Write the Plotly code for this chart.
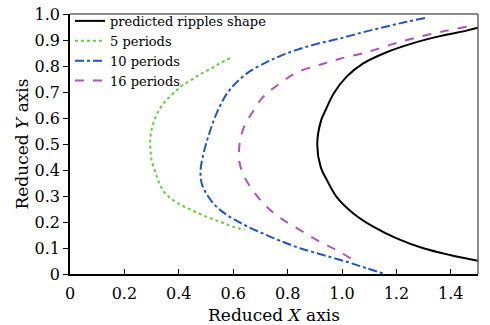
import plotly.graph_objects as go

# predicted ripples shape
pred_x = [1.500, 1.458, 1.360, 1.262, 1.164, 1.078, 1.017, 0.970, 0.940, 0.923, 0.909, 0.922, 0.944, 0.980, 1.042, 1.115, 1.201, 1.299, 1.397, 1.500]
pred_y = [0.947, 0.936, 0.915, 0.888, 0.853, 0.810, 0.759, 0.695, 0.631, 0.590, 0.500, 0.410, 0.362, 0.297, 0.233, 0.182, 0.137, 0.099, 0.073, 0.051]

# 5 periods
p5_x = [0.588, 0.551, 0.515, 0.478, 0.445, 0.410, 0.380, 0.353, 0.331, 0.313, 0.301, 0.295, 0.296, 0.300, 0.313, 0.327, 0.347, 0.378, 0.413, 0.450, 0.486, 0.523, 0.561, 0.600, 0.641]
p5_y = [0.830, 0.810, 0.788, 0.768, 0.746, 0.723, 0.695, 0.667, 0.637, 0.599, 0.560, 0.518, 0.477, 0.438, 0.394, 0.353, 0.314, 0.285, 0.263, 0.244, 0.227, 0.212, 0.197, 0.182, 0.169]

# 10 periods
p10_x = [1.305, 1.238, 1.164, 1.078, 0.993, 0.907, 0.833, 0.772, 0.723, 0.662, 0.613, 0.578, 0.553, 0.532, 0.515, 0.500, 0.488, 0.480, 0.484, 0.502, 0.533, 0.566, 0.607, 0.652, 0.711, 0.772, 0.846, 0.931, 1.017, 1.091, 1.158]
p10_y = [0.985, 0.970, 0.952, 0.930, 0.906, 0.885, 0.862, 0.838, 0.815, 0.780, 0.738, 0.695, 0.650, 0.600, 0.550, 0.500, 0.450, 0.400, 0.349, 0.308, 0.265, 0.235, 0.208, 0.183, 0.155, 0.128, 0.099, 0.073, 0.047, 0.022, 0.000]

# 16 periods
p16_x = [1.458, 1.385, 1.287, 1.189, 1.091, 0.993, 0.919, 0.833, 0.772, 0.711, 0.674, 0.643, 0.627, 0.621, 0.625, 0.641, 0.680, 0.729, 0.784, 0.846, 0.919, 0.980, 1.035]
p16_y = [0.951, 0.936, 0.913, 0.885, 0.853, 0.828, 0.805, 0.775, 0.733, 0.682, 0.627, 0.573, 0.522, 0.464, 0.420, 0.374, 0.310, 0.253, 0.208, 0.169, 0.124, 0.092, 0.058]

x_ticks = [0, 0.2, 0.4, 0.6, 0.8, 1.0, 1.2, 1.4]
x_labels = ["0", "0.2", "0.4", "0.6", "0.8", "1.0", "1.2", "1.4"]
y_ticks = [0, 0.1, 0.2, 0.3, 0.4, 0.5, 0.6, 0.7, 0.8, 0.9, 1.0]
y_labels = ["0", "0.1", "0.2", "0.3", "0.4", "0.5", "0.6", "0.7", "0.8", "0.9", "1.0"]

FONT = "DejaVu Serif"

fig = go.Figure()
fig.add_trace(go.Scatter(x=pred_x, y=pred_y, mode="lines", name="predicted ripples shape",
                         line=dict(color="black", width=2, shape="spline")))
fig.add_trace(go.Scatter(x=p5_x, y=p5_y, mode="lines", name="5 periods",
                         line=dict(color="#66cc44", width=2, dash="dot", shape="spline")))
fig.add_trace(go.Scatter(x=p10_x, y=p10_y, mode="lines", name="10 periods",
                         line=dict(color="#2255bb", width=2, dash="dashdot", shape="spline")))
fig.add_trace(go.Scatter(x=p16_x, y=p16_y, mode="lines", name="16 periods",
                         line=dict(color="#aa55bb", width=2, dash="dash", shape="spline")))

fig.update_layout(
    width=490, height=325,
    margin=dict(l=70, r=12, t=14, b=51, autoexpand=False),
    plot_bgcolor="white", paper_bgcolor="white",
    font=dict(family=FONT, color="black", size=15),
    showlegend=True,
    legend=dict(x=0.0, y=1.031, xanchor="left", yanchor="top", bgcolor="rgba(0,0,0,0)",
                font=dict(family=FONT, size=13, color="black"), itemwidth=30,
                borderwidth=0),
    xaxis=dict(range=[0, 1.5], tickvals=x_ticks, ticktext=x_labels, ticks="inside",
               ticklen=5, tickcolor="black", showgrid=False, zeroline=False,
               showline=True, linecolor="black", linewidth=1.5, mirror=False,
               ticklabelstandoff=4, automargin=False,
               title=dict(text="Reduced <i>X</i> axis",
                          font=dict(family=FONT, size=17, color="black"), standoff=8),
               tickfont=dict(family=FONT, size=16, color="black")),
    yaxis=dict(range=[0, 1.0], tickvals=y_ticks, ticktext=y_labels, ticks="outside",
               ticklen=5, tickcolor="black", showgrid=False, zeroline=False,
               showline=True, linecolor="black", linewidth=1.5, mirror=False,
               automargin=False,
               title=dict(text="Reduced <i>Y</i> axis",
                          font=dict(family=FONT, size=17, color="black"), standoff=2),
               tickfont=dict(family=FONT, size=16, color="black")),
    shapes=[
        dict(type="line", xref="paper", yref="paper", x0=0, x1=1, y0=1, y1=1,
             line=dict(color="#666666", width=1.5)),
        dict(type="line", xref="paper", yref="paper", x0=1, x1=1, y0=0, y1=1,
             line=dict(color="#666666", width=1.5)),
    ],
)

fig.write_html("out.html")
